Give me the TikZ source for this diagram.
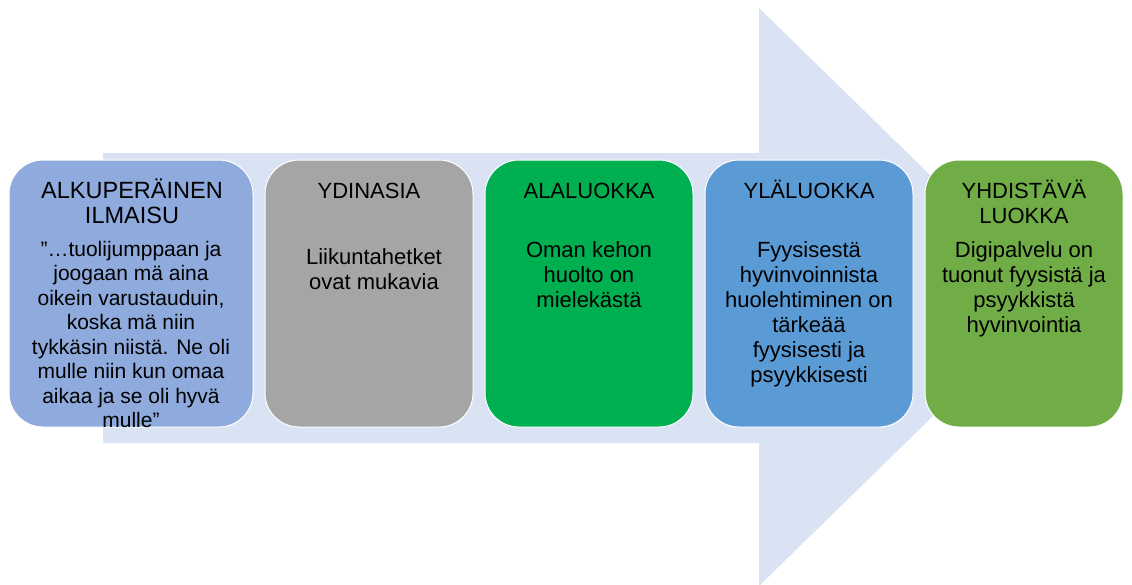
\documentclass[tikz,border=0pt]{standalone}
\usepackage{fontspec}
\setmainfont{Liberation Sans}
\definecolor{arrowfill}{HTML}{DAE3F3}
\definecolor{boxone}{HTML}{8FAADC}
\definecolor{boxtwo}{HTML}{A5A5A5}
\definecolor{boxthree}{HTML}{00B050}
\definecolor{boxfour}{HTML}{5B9BD5}
\definecolor{boxfive}{HTML}{70AD47}
% struts that fix the height of the first line of each text block
\newcommand\headstrut{\rule{0pt}{22pt}}
\newcommand\quotestrut{\rule{0pt}{21pt}}
\tikzset{
  card/.style={rectangle, rounded corners=34pt, draw=white, line width=1pt,
    minimum height=267pt, inner sep=0pt},
  cardtext/.style={anchor=north, inner sep=0pt, align=center, text=black,
    font=\fontsize{22}{25}\selectfont},
  quotetext/.style={cardtext, font=\fontsize{21}{24.5}\selectfont},
}
\begin{document}
\begin{tikzpicture}[x=1pt,y=-1pt]
\useasboundingbox (0,0) rectangle (1132,584);
% the broad arrow behind the cards
\fill[arrowfill] (103,153) -- (759,153) -- (759,8) -- (1055,297)
  -- (759,586) -- (759,443) -- (103,443) -- cycle;

% cards
\node[card, fill=boxone,   minimum width=244pt] (b1) at (131,293.5) {};
\node[card, fill=boxtwo,   minimum width=208pt] (b2) at (369,293.5) {};
\node[card, fill=boxthree, minimum width=208pt] (b3) at (589,293.5) {};
\node[card, fill=boxfour,  minimum width=208pt] (b4) at (809,293.5) {};
\node[card, fill=boxfive,  minimum width=198pt] (b5) at (1024,293.5) {};

% headings
\node[cardtext, font=\fontsize{23.5}{25}\selectfont] (h1) at (132,176)
  {\headstrut ALKUPERÄINEN\\ILMAISU};
\node[cardtext] (h2) at (369,176) {\headstrut YDINASIA};
\node[cardtext] (h3) at (589,176) {\headstrut ALALUOKKA};
\node[cardtext] (h4) at (809,176) {\headstrut YLÄLUOKKA};
\node[cardtext] (h5) at (1024,176) {\headstrut YHDISTÄVÄ\\LUOKKA};

% card contents
\node[quotetext] (t1) at (131,235) {\quotestrut ”…tuolijumppaan ja\\joogaan mä aina\\oikein varustauduin,\\koska mä niin\\tykkäsin niistä. Ne oli\\mulle niin kun omaa\\aikaa ja se oli hyvä\\mulle”};
\node[cardtext] (t2) at (374,242) {\headstrut Liikuntahetket\\ovat mukavia};
\node[cardtext] (t3) at (589,235) {\headstrut Oman kehon\\huolto on\\mielekästä};
\node[cardtext] (t4) at (809,235) {\headstrut Fyysisestä\\hyvinvoinnista\\huolehtiminen on\\tärkeää\\fyysisesti ja\\psyykkisesti};
\node[cardtext] (t5) at (1024,235) {\headstrut Digipalvelu on\\tuonut fyysistä ja\\psyykkistä\\hyvinvointia};
\end{tikzpicture}
\end{document}
